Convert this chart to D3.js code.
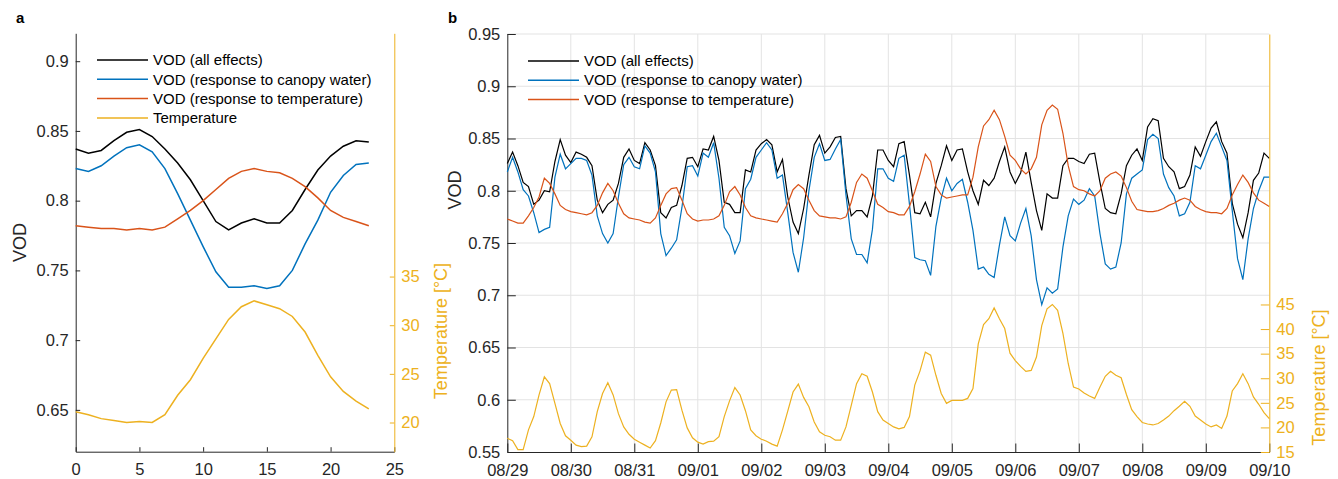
<!DOCTYPE html>
<html>
<head>
<meta charset="utf-8">
<script src="https://cdn.jsdelivr.net/npm/d3@7"></script>
<style>
  body { margin: 0; background: #fff; }
  svg text { font-family: "Liberation Sans", Arial, Helvetica, sans-serif; }
</style>
</head>
<body>
<svg id="chart" width="1338" height="479"></svg>
<script>
/*
 * Diurnal VOD figure: panel a shows the mean daily cycle,
 * panel b the time series from 08/29 to 09/10 (2-hourly samples).
 */

// ---- panel a data (hour of day) ----
var hoursA = [0, 1, 2, 3, 4, 5, 6, 7, 8, 9, 10, 11, 12, 13, 14, 15, 16, 17, 18, 19, 20, 21, 22, 23];
var vodAllA = [0.837, 0.834, 0.836, 0.843, 0.849, 0.851, 0.846, 0.837, 0.827, 0.815, 0.800, 0.785,
  0.779, 0.784, 0.787, 0.784, 0.784, 0.793, 0.808, 0.822, 0.832, 0.839, 0.843, 0.842];
var vodWaterA = [0.823, 0.821, 0.825, 0.832, 0.838, 0.840, 0.835, 0.823, 0.805, 0.786, 0.767, 0.749,
  0.738, 0.738, 0.739, 0.737, 0.739, 0.750, 0.769, 0.786, 0.806, 0.818, 0.826, 0.827];
var vodTempA = [0.782, 0.781, 0.780, 0.780, 0.779, 0.780, 0.779, 0.781, 0.787, 0.793, 0.800, 0.808,
  0.816, 0.821, 0.823, 0.821, 0.820, 0.816, 0.810, 0.802, 0.793, 0.788, 0.785, 0.782];
var tempA = [21.1, 20.8, 20.4, 20.2, 20.0, 20.1, 20.0, 20.8, 22.8, 24.4, 26.6, 28.6,
  30.6, 31.9, 32.5, 32.1, 31.7, 30.9, 29.3, 26.9, 24.7, 23.2, 22.2, 21.4];

var xTicksA = [0, 5, 10, 15, 20, 25];
var vodTicksA = [0.65, 0.7, 0.75, 0.8, 0.85, 0.9];
var tempTicksA = [20, 25, 30, 35];

// ---- panel b data (every 2 hours from 08/29 00:00) ----
var startB = "2019-08-29T00:00:00Z";
var stepHoursB = 2;
var vodAllB = [
  0.826, 0.837, 0.824, 0.808, 0.804, 0.787, 0.791, 0.800, 0.799, 0.828, 0.849, 0.834,
  0.827, 0.837, 0.835, 0.832, 0.824, 0.791, 0.779, 0.787, 0.791, 0.807, 0.832, 0.840,
  0.829, 0.826, 0.846, 0.839, 0.824, 0.779, 0.774, 0.784, 0.786, 0.805, 0.831, 0.832,
  0.823, 0.840, 0.839, 0.852, 0.829, 0.789, 0.787, 0.779, 0.779, 0.820, 0.818, 0.839,
  0.845, 0.849, 0.844, 0.818, 0.830, 0.794, 0.770, 0.759, 0.783, 0.815, 0.844, 0.853,
  0.836, 0.842, 0.851, 0.852, 0.802, 0.776, 0.781, 0.781, 0.775, 0.795, 0.839, 0.839,
  0.829, 0.823, 0.845, 0.847, 0.815, 0.779, 0.778, 0.789, 0.775, 0.807, 0.824, 0.843,
  0.829, 0.839, 0.840, 0.818, 0.800, 0.787, 0.810, 0.805, 0.812, 0.828, 0.842, 0.818,
  0.807, 0.817, 0.837, 0.808, 0.781, 0.762, 0.797, 0.793, 0.793, 0.824, 0.831, 0.831,
  0.828, 0.826, 0.835, 0.836, 0.808, 0.783, 0.779, 0.778, 0.797, 0.824, 0.834, 0.840,
  0.829, 0.861, 0.869, 0.867, 0.831, 0.823, 0.818, 0.802, 0.804, 0.815, 0.842, 0.833,
  0.847, 0.860, 0.866, 0.847, 0.836, 0.788, 0.768, 0.755, 0.779, 0.810, 0.817, 0.836,
  0.831];
var vodWaterB = [
  0.818, 0.832, 0.818, 0.801, 0.795, 0.779, 0.760, 0.763, 0.765, 0.813, 0.835, 0.821,
  0.826, 0.831, 0.831, 0.829, 0.815, 0.776, 0.759, 0.750, 0.759, 0.794, 0.825, 0.832,
  0.823, 0.821, 0.843, 0.836, 0.818, 0.759, 0.738, 0.745, 0.753, 0.784, 0.823, 0.824,
  0.814, 0.836, 0.832, 0.846, 0.812, 0.765, 0.757, 0.740, 0.752, 0.802, 0.811, 0.832,
  0.839, 0.846, 0.839, 0.812, 0.815, 0.779, 0.741, 0.722, 0.755, 0.800, 0.832, 0.845,
  0.829, 0.830, 0.840, 0.849, 0.796, 0.754, 0.739, 0.739, 0.731, 0.763, 0.821, 0.821,
  0.812, 0.809, 0.831, 0.834, 0.787, 0.736, 0.734, 0.733, 0.719, 0.766, 0.793, 0.812,
  0.800, 0.807, 0.811, 0.789, 0.762, 0.725, 0.727, 0.720, 0.717, 0.748, 0.775, 0.757,
  0.752, 0.769, 0.783, 0.757, 0.715, 0.691, 0.707, 0.702, 0.706, 0.746, 0.776, 0.792,
  0.787, 0.791, 0.802, 0.795, 0.759, 0.730, 0.725, 0.727, 0.750, 0.797, 0.812, 0.816,
  0.820, 0.849, 0.854, 0.850, 0.816, 0.803, 0.795, 0.776, 0.778, 0.789, 0.824, 0.821,
  0.834, 0.847, 0.855, 0.842, 0.829, 0.781, 0.735, 0.715, 0.754, 0.783, 0.800, 0.813,
  0.813];
var vodTempB = [
  0.773, 0.771, 0.769, 0.769, 0.776, 0.784, 0.794, 0.812, 0.807, 0.797, 0.786, 0.782,
  0.780, 0.779, 0.778, 0.777, 0.779, 0.786, 0.798, 0.807, 0.800, 0.788, 0.778, 0.774,
  0.773, 0.772, 0.770, 0.769, 0.774, 0.786, 0.797, 0.802, 0.803, 0.791, 0.778, 0.773,
  0.771, 0.772, 0.772, 0.773, 0.776, 0.786, 0.799, 0.804, 0.796, 0.784, 0.776, 0.774,
  0.773, 0.772, 0.771, 0.770, 0.778, 0.788, 0.801, 0.806, 0.802, 0.791, 0.781, 0.776,
  0.775, 0.774, 0.774, 0.773, 0.775, 0.789, 0.808, 0.816, 0.812, 0.800, 0.787, 0.784,
  0.780, 0.779, 0.777, 0.777, 0.785, 0.799, 0.816, 0.835, 0.828, 0.804, 0.796, 0.793,
  0.794, 0.795, 0.796, 0.796, 0.813, 0.842, 0.862, 0.868, 0.877, 0.868, 0.852, 0.834,
  0.829, 0.821, 0.816, 0.821, 0.832, 0.863, 0.877, 0.882, 0.878, 0.855, 0.824, 0.804,
  0.801, 0.800, 0.797, 0.795, 0.800, 0.812, 0.816, 0.818, 0.814, 0.803, 0.790, 0.782,
  0.781, 0.780, 0.780, 0.781, 0.783, 0.786, 0.788, 0.791, 0.793, 0.791, 0.785, 0.782,
  0.780, 0.779, 0.779, 0.778, 0.783, 0.796, 0.806, 0.815, 0.808, 0.798, 0.791, 0.788,
  0.785];
var tempB = [
  17.8, 17.3, 15.5, 15.5, 19.5, 22.2, 26.6, 30.3, 28.9, 24.9, 20.8, 18.3,
  17.4, 16.4, 16.1, 16.2, 18.1, 23.2, 26.9, 29.1, 26.6, 22.8, 20.1, 18.6,
  17.6, 17.0, 16.4, 15.8, 17.3, 20.9, 25.2, 27.6, 27.7, 23.5, 19.9, 17.9,
  17.0, 16.6, 17.1, 17.2, 18.1, 22.2, 25.4, 28.1, 26.6, 23.4, 19.5, 18.3,
  17.6, 17.2, 16.6, 16.2, 19.5, 23.3, 27.2, 28.8, 26.1, 24.2, 21.1, 19.1,
  18.4, 18.1, 17.4, 17.4, 20.1, 24.5, 28.9, 30.9, 30.4, 27.2, 23.2, 21.5,
  20.8, 20.1, 19.7, 20.0, 22.2, 28.6, 31.5, 35.3, 34.7, 30.6, 26.9, 24.9,
  25.5, 25.5, 25.5, 25.9, 27.9, 37.0, 40.9, 42.1, 44.3, 42.1, 40.1, 35.1,
  33.6, 32.4, 31.4, 31.6, 34.3, 40.7, 44.1, 45.0, 43.8, 39.1, 33.0, 28.2,
  27.8, 27.0, 26.4, 25.9, 28.2, 30.4, 31.4, 30.6, 30.1, 26.7, 23.6, 22.2,
  21.0, 20.7, 20.5, 20.8, 21.5, 22.3, 23.4, 24.3, 25.3, 24.3, 22.3, 21.5,
  20.7, 20.1, 20.5, 19.8, 22.3, 27.4, 28.9, 30.9, 28.9, 26.2, 24.7, 23.0,
  21.8];

var dayTicksB = ["08/29", "08/30", "08/31", "09/01", "09/02", "09/03", "09/04",
  "09/05", "09/06", "09/07", "09/08", "09/09", "09/10"];
var vodTicksB = [0.55, 0.6, 0.65, 0.7, 0.75, 0.8, 0.85, 0.9, 0.95];
var tempTicksB = [15, 20, 25, 30, 35, 40, 45];

var legendLabels = ["VOD (all effects)", "VOD (response to canopy water)",
  "VOD (response to temperature)", "Temperature"];

var Figure = (function () {
  "use strict";

  var svg = d3.select("#chart"),
    axisColor = "#262626",
    gridColor = "#e3e3e3",
    colors = ["#000000", "#0072bd", "#d95319", "#edb120"],
    tickFont = "16.5px",
    titleFont = "18px",
    fmtVod = function (d) { return String(+d.toFixed(2)); };

  // Strip the default axis look and apply the MATLAB-like one.
  function styleAxis(g, color) {
    g.select(".domain").attr("stroke", color).attr("stroke-width", 1);
    g.selectAll(".tick line").attr("stroke", color).attr("stroke-width", 1);
    g.selectAll(".tick text").attr("fill", color).style("font-size", tickFont)
      .attr("font-family", null);
    g.attr("font-family", null).attr("font-size", null);
  }

  function drawLegend(x, y0, rowH, n) {
    let lg = svg.append("g").attr("class", "legend");
    for (let i = 0; i < n; i++) {
      let y = y0 + i * rowH;
      lg.append("line")
        .attr("x1", x).attr("x2", x + 51)
        .attr("y1", y).attr("y2", y)
        .attr("stroke", colors[i]).attr("stroke-width", 1.5);
      lg.append("text")
        .attr("x", x + 56).attr("y", y)
        .attr("dy", "0.35em")
        .style("font-size", "15px")
        .attr("fill", "#000")
        .text(legendLabels[i]);
    }
  }

  function drawPanelA() {
    let left = 75.7, right = 394.3, top = 33.3, bottom = 451.7;

    let x = d3.scaleLinear().domain([0, 25]).range([left, right]),
      y = d3.scaleLinear().domain([0.62, 0.92]).range([bottom, top]),
      yT = d3.scaleLinear().domain([17, 60]).range([bottom, top]);

    let g = svg.append("g").attr("class", "panel-a");

    // axes
    g.append("g").attr("transform", "translate(0," + bottom + ")")
      .call(d3.axisBottom(x).tickValues(xTicksA).tickSize(-4.5).tickSizeOuter(0).tickPadding(12))
      .call(styleAxis, axisColor);
    g.append("g").attr("transform", "translate(" + left + ",0)")
      .call(d3.axisLeft(y).tickValues(vodTicksA).tickFormat(fmtVod).tickSize(-4.5).tickSizeOuter(0).tickPadding(7))
      .call(styleAxis, axisColor);
    g.append("g").attr("transform", "translate(" + right + ",0)")
      .call(d3.axisRight(yT).tickValues(tempTicksA).tickSize(-4.5).tickSizeOuter(0).tickPadding(7))
      .call(styleAxis, colors[3]);

    let series = [vodAllA, vodWaterA, vodTempA];
    series.forEach(function (s, i) {
      g.append("path")
        .datum(s)
        .attr("fill", "none")
        .attr("stroke", colors[i])
        .attr("stroke-width", 1.5)
        .attr("d", d3.line().x((d, k) => x(hoursA[k])).y(d => y(d)));
    });
    g.append("path")
      .datum(tempA)
      .attr("fill", "none")
      .attr("stroke", colors[3])
      .attr("stroke-width", 1.5)
      .attr("d", d3.line().x((d, k) => x(hoursA[k])).y(d => yT(d)));

    // axis titles and panel letter
    g.append("text")
      .attr("transform", "translate(26," + ((top + bottom) / 2) + ") rotate(-90)")
      .attr("text-anchor", "middle").style("font-size", titleFont).attr("fill", axisColor)
      .text("VOD");
    g.append("text")
      .attr("transform", "translate(447,331) rotate(-90)")
      .attr("text-anchor", "middle").style("font-size", titleFont).attr("fill", colors[3])
      .text("Temperature [°C]");
    g.append("text").attr("x", 16).attr("y", 22.5)
      .style("font-size", "15px").style("font-weight", "bold").text("a");

    drawLegend(97, 60, 19.3, 4);
  }

  function drawPanelB() {
    let left = 507.3, right = 1269.3, top = 34, bottom = 452,
      t0 = new Date(startB),
      times = vodAllB.map((d, i) => new Date(t0.getTime() + i * stepHoursB * 3600e3)),
      dayDates = dayTicksB.map((d, i) => d3.utcDay.offset(t0, i));

    let x = d3.scaleUtc().domain([t0, dayDates[dayDates.length - 1]]).range([left, right]),
      y = d3.scaleLinear().domain([0.55, 0.95]).range([bottom, top]),
      yT = d3.scaleLinear().domain([15, 100]).range([bottom, top]);

    let g = svg.append("g").attr("class", "panel-b");

    // grid
    g.append("g").selectAll("line.gx")
      .data(dayDates.slice(1, -1)).enter().append("line")
      .attr("x1", d => x(d)).attr("x2", d => x(d))
      .attr("y1", top).attr("y2", bottom)
      .attr("stroke", gridColor).attr("stroke-width", 1);
    g.append("g").selectAll("line.gy")
      .data(vodTicksB.slice(1)).enter().append("line")
      .attr("x1", left).attr("x2", right)
      .attr("y1", d => y(d)).attr("y2", d => y(d))
      .attr("stroke", gridColor).attr("stroke-width", 1);

    // axes
    g.append("g").attr("transform", "translate(0," + bottom + ")")
      .call(d3.axisBottom(x).tickValues(dayDates).tickFormat((d, i) => dayTicksB[i])
        .tickSize(-8.5).tickSizeOuter(0).tickPadding(12))
      .call(styleAxis, axisColor);
    g.append("g").attr("transform", "translate(" + left + ",0)")
      .call(d3.axisLeft(y).tickValues(vodTicksB).tickFormat(fmtVod).tickSize(-8.5).tickSizeOuter(0).tickPadding(7))
      .call(styleAxis, axisColor);

    // lines
    let series = [vodAllB, vodWaterB, vodTempB];
    series.forEach(function (s, i) {
      g.append("path")
        .datum(s)
        .attr("fill", "none")
        .attr("stroke", colors[i])
        .attr("stroke-width", 1.2)
        .attr("d", d3.line().x((d, k) => x(times[k])).y(d => y(d)));
    });
    g.append("path")
      .datum(tempB)
      .attr("fill", "none")
      .attr("stroke", colors[3])
      .attr("stroke-width", 1.2)
      .attr("d", d3.line().x((d, k) => x(times[k])).y(d => yT(d)));

    g.append("g").attr("transform", "translate(" + right + ",0)")
      .call(d3.axisRight(yT).tickValues(tempTicksB).tickSize(-8.5).tickSizeOuter(0).tickPadding(7))
      .call(styleAxis, colors[3]);

    // axis titles and panel letter
    g.append("text")
      .attr("transform", "translate(461,190) rotate(-90)")
      .attr("text-anchor", "middle").style("font-size", titleFont).attr("fill", axisColor)
      .text("VOD");
    g.append("text")
      .attr("transform", "translate(1325,377.5) rotate(-90)")
      .attr("text-anchor", "middle").style("font-size", titleFont).attr("fill", colors[3])
      .text("Temperature [°C]");
    g.append("text").attr("x", 448).attr("y", 22.5)
      .style("font-size", "15px").style("font-weight", "bold").text("b");

    drawLegend(528, 61, 19.2, 3);
  }

  return { drawPanelA: drawPanelA, drawPanelB: drawPanelB };
}());

Figure.drawPanelA();
Figure.drawPanelB();
</script>
</body>
</html>
